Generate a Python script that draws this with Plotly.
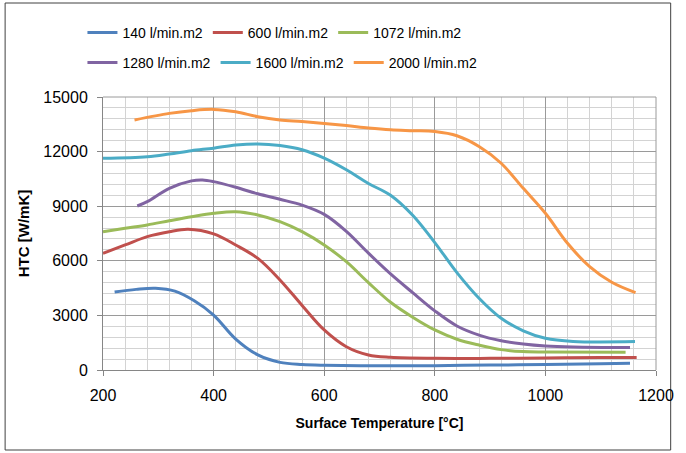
import plotly.graph_objects as go

names = ["140 l/min.m2", "600 l/min.m2", "1072 l/min.m2",
         "1280 l/min.m2", "1600 l/min.m2", "2000 l/min.m2"]
colors = ["#4F81BD", "#C0504D", "#9BBB59", "#8064A2", "#4BACC6", "#F79646"]

t_140 = [221, 260, 295, 330, 365, 400, 440, 480, 520, 560, 600, 700, 800, 900, 1000, 1100, 1153]
h_140 = [4290, 4430, 4490, 4330, 3800, 3020, 1700, 830, 420, 300, 260, 230, 240, 270, 300, 340, 370]

t_600 = [200, 240, 280, 320, 354, 400, 440, 480, 520, 560, 600, 640, 680, 720, 800, 900, 1000, 1100, 1165]
h_600 = [6410, 6870, 7330, 7600, 7730, 7480, 6870, 6130, 4950, 3550, 2200, 1280, 825, 695, 640, 640, 660, 680, 690]

t_1072 = [200, 240, 280, 320, 360, 400, 440, 480, 520, 560, 600, 640, 680, 720, 760, 800, 840, 880, 920, 960, 1000, 1145]
h_1072 = [7600, 7790, 7970, 8200, 8420, 8610, 8700, 8520, 8150, 7600, 6870, 5950, 4800, 3720, 2900, 2200, 1690, 1370, 1120, 1010, 990, 980]

t_1280 = [262, 280, 320, 360, 380, 400, 440, 480, 520, 560, 600, 640, 680, 720, 760, 800, 840, 880, 920, 960, 1000, 1050, 1153]
h_1280 = [9010, 9250, 9980, 10390, 10440, 10350, 10040, 9680, 9380, 9060, 8550, 7620, 6420, 5280, 4250, 3250, 2420, 1920, 1610, 1430, 1320, 1260, 1230]

t_1600 = [200, 280, 320, 360, 400, 440, 480, 520, 560, 600, 640, 680, 720, 760, 800, 840, 880, 920, 960, 1000, 1050, 1162]
h_1600 = [11630, 11720, 11870, 12050, 12190, 12360, 12420, 12330, 12100, 11640, 11000, 10250, 9600, 8500, 7000, 5350, 3940, 2840, 2150, 1740, 1570, 1560]

t_2000 = [257, 320, 360, 400, 440, 480, 520, 560, 600, 640, 680, 720, 760, 800, 840, 880, 920, 960, 1000, 1040, 1080, 1120, 1163]
h_2000 = [13740, 14100, 14250, 14320, 14190, 13920, 13740, 13650, 13540, 13430, 13300, 13200, 13150, 13100, 12870, 12280, 11360, 9980, 8610, 6960, 5680, 4820, 4250]

series_t = [t_140, t_600, t_1072, t_1280, t_1600, t_2000]
series_h = [h_140, h_600, h_1072, h_1280, h_1600, h_2000]

x_ticks = [200, 400, 600, 800, 1000, 1200]
y_ticks = [0, 3000, 6000, 9000, 12000, 15000]

FONT = "Liberation Sans, Arial, sans-serif"

fig = go.Figure()
for i in range(6):
    fig.add_trace(go.Scatter(
        x=series_t[i], y=series_h[i], name=names[i], mode="lines",
        line=dict(color=colors[i], width=3, shape="spline", smoothing=1.0),
        legend="legend" if i < 3 else "legend2",
    ))

W, H = 686, 453
L, R, T, B = 103, 18, 97, 83
pw, ph = W - L - R, H - T - B

def px_x(p):
    return (p - L) / pw

def px_y(p):
    return (H - B - p) / ph

legend_common = dict(
    orientation="h", font=dict(family=FONT, size=14, color="#000000"),
    bgcolor="rgba(0,0,0,0)", xanchor="left", yanchor="middle",
    itemwidth=30, tracegroupgap=0,
)

fig.update_layout(
    width=W, height=H,
    margin=dict(l=L, r=R, t=T, b=B),
    paper_bgcolor="white", plot_bgcolor="white",
    showlegend=True,
    legend=dict(x=px_x(82), y=px_y(33), **legend_common),
    legend2=dict(x=px_x(82), y=px_y(63), **legend_common),
    xaxis=dict(
        range=[200, 1200], tickvals=x_ticks, ticktext=[str(v) for v in x_ticks],
        showgrid=True, gridcolor="#9A9A9A", gridwidth=1,
        minor=dict(dtick=40, tick0=200, showgrid=True, gridcolor="#D3D3D3", gridwidth=1),
        showline=True, linecolor="#868686", linewidth=1,
        ticks="outside", ticklen=5, tickcolor="#868686",
        ticklabelstandoff=6,
        tickfont=dict(family=FONT, size=16, color="#000000"),
        title=dict(text="<b>Surface Temperature [°C]</b>", font=dict(family=FONT, size=14, color="#000000"), standoff=14),
        zeroline=False,
    ),
    yaxis=dict(
        range=[0, 15000], tickvals=y_ticks, ticktext=[str(v) for v in y_ticks],
        showgrid=True, gridcolor="#9A9A9A", gridwidth=1,
        minor=dict(dtick=600, tick0=0, showgrid=True, gridcolor="#D3D3D3", gridwidth=1),
        showline=True, linecolor="#868686", linewidth=1,
        ticks="outside", ticklen=5, tickcolor="#868686",
        ticklabelstandoff=6,
        tickfont=dict(family=FONT, size=16, color="#000000"),
        title=dict(text="<b>HTC [W/mK]</b>", font=dict(family=FONT, size=15, color="#000000"), standoff=10),
        zeroline=False,
    ),
    shapes=[
        dict(type="rect", xref="paper", yref="paper",
             x0=px_x(3), x1=px_x(683), y0=px_y(450), y1=px_y(3),
             line=dict(color="#404040", width=1), fillcolor="rgba(0,0,0,0)", layer="below"),
        dict(type="line", xref="paper", yref="paper", x0=1, x1=1, y0=0, y1=1,
             line=dict(color="#9A9A9A", width=1)),
        dict(type="line", xref="paper", yref="paper", x0=0, x1=1, y0=1, y1=1,
             line=dict(color="#9A9A9A", width=1)),
    ],
)

fig.write_html("out.html", config={"displayModeBar": False},
               post_script="document.body.style.margin='0';document.body.style.overflow='hidden';")
